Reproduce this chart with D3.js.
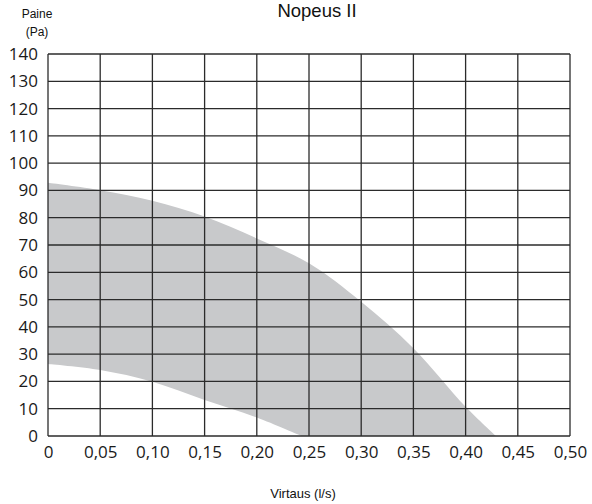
<!DOCTYPE html>
<html>
<head>
<meta charset="utf-8">
<script src="https://cdn.jsdelivr.net/npm/d3@7"></script>
<style>
  html, body { margin: 0; padding: 0; background: #fff; }
  svg { display: block; }
</style>
</head>
<body>
<div id="chart"></div>
<script>
// Data
const upperFlow = [0, 0.05, 0.10, 0.15, 0.20, 0.25, 0.30, 0.35, 0.40, 0.429];
const upperPressure = [92.8, 90.1, 86.2, 80.4, 72.4, 63.3, 49.2, 32.2, 10.7, 0];
const lowerFlow = [0, 0.05, 0.10, 0.15, 0.20, 0.243];
const lowerPressure = [26.4, 24.2, 19.9, 13.2, 6.8, 0];
const xTicks = [0, 0.05, 0.10, 0.15, 0.20, 0.25, 0.30, 0.35, 0.40, 0.45, 0.50];
const yTicks = [0, 10, 20, 30, 40, 50, 60, 70, 80, 90, 100, 110, 120, 130, 140];

const width = 592, height = 504;
const margin = {left: 48, right: 22, top: 54, bottom: 68};

const svg = d3.select("#chart").append("svg")
  .attr("width", width)
  .attr("height", height);

const x = d3.scaleLinear().domain([0, 0.5]).range([margin.left, width - margin.right]);
const y = d3.scaleLinear().domain([0, 140]).range([height - margin.bottom, margin.top]);

const upper = upperFlow.map((f, i) => [f, upperPressure[i]]);
const lower = lowerFlow.map((f, i) => [f, lowerPressure[i]]);

const area = d3.area()
  .x(d => x(d[0]))
  .y0(y(0))
  .y1(d => y(d[1]))
  .curve(d3.curveCatmullRom.alpha(0.5));

// grey band = area under upper curve minus area under lower curve
svg.append("path")
  .attr("d", area(upper))
  .attr("fill", "#c8c9cb");
svg.append("path")
  .attr("d", area(lower))
  .attr("fill", "#fff");

// grid
const grid = svg.append("g").attr("stroke", "#2b2b2b").attr("stroke-width", 1.3);
grid.selectAll("line.h")
  .data(yTicks)
  .join("line")
  .attr("class", "h")
  .attr("x1", x(0)).attr("x2", x(0.5))
  .attr("y1", d => y(d)).attr("y2", d => y(d));
grid.selectAll("line.v")
  .data(xTicks)
  .join("line")
  .attr("class", "v")
  .attr("x1", d => x(d)).attr("x2", d => x(d))
  .attr("y1", y(0)).attr("y2", y(140));

// axes (labels only, grid drawn above)
const fmtX = d => d === 0 ? "0" : d3.format(".2f")(d).replace(".", ",");

const xAxis = svg.append("g")
  .attr("transform", `translate(0,${y(0)})`)
  .call(d3.axisBottom(x).tickValues(xTicks).tickFormat(fmtX).tickSize(0).tickPadding(10));
xAxis.select(".domain").remove();
xAxis.selectAll("text")
  .attr("font-family", "'Open Sans', sans-serif")
  .attr("font-size", 17)
  .attr("fill", "#1a1a1a");

const yAxis = svg.append("g")
  .attr("transform", `translate(${x(0)},0)`)
  .call(d3.axisLeft(y).tickValues(yTicks).tickFormat(d3.format("d")).tickSize(0).tickPadding(10));
yAxis.select(".domain").remove();
yAxis.selectAll("text")
  .attr("font-family", "'Open Sans', sans-serif")
  .attr("font-size", 17)
  .attr("fill", "#1a1a1a");

// titles
svg.append("text")
  .attr("x", 317).attr("y", 16.5)
  .attr("text-anchor", "middle")
  .attr("font-family", "'Liberation Sans', Arial, sans-serif")
  .attr("font-size", 18.5)
  .attr("fill", "#111")
  .text("Nopeus II");

svg.append("text")
  .attr("x", 37).attr("y", 18)
  .attr("text-anchor", "middle")
  .attr("font-family", "'Liberation Sans', Arial, sans-serif")
  .attr("font-size", 12)
  .attr("fill", "#111")
  .text("Paine");

svg.append("text")
  .attr("x", 37).attr("y", 36)
  .attr("text-anchor", "middle")
  .attr("font-family", "'Liberation Sans', Arial, sans-serif")
  .attr("font-size", 12)
  .attr("fill", "#111")
  .text("(Pa)");

svg.append("text")
  .attr("x", 303).attr("y", 498)
  .attr("text-anchor", "middle")
  .attr("font-family", "'Liberation Sans', Arial, sans-serif")
  .attr("font-size", 13)
  .attr("fill", "#111")
  .text("Virtaus (l/s)");
</script>
</body>
</html>
